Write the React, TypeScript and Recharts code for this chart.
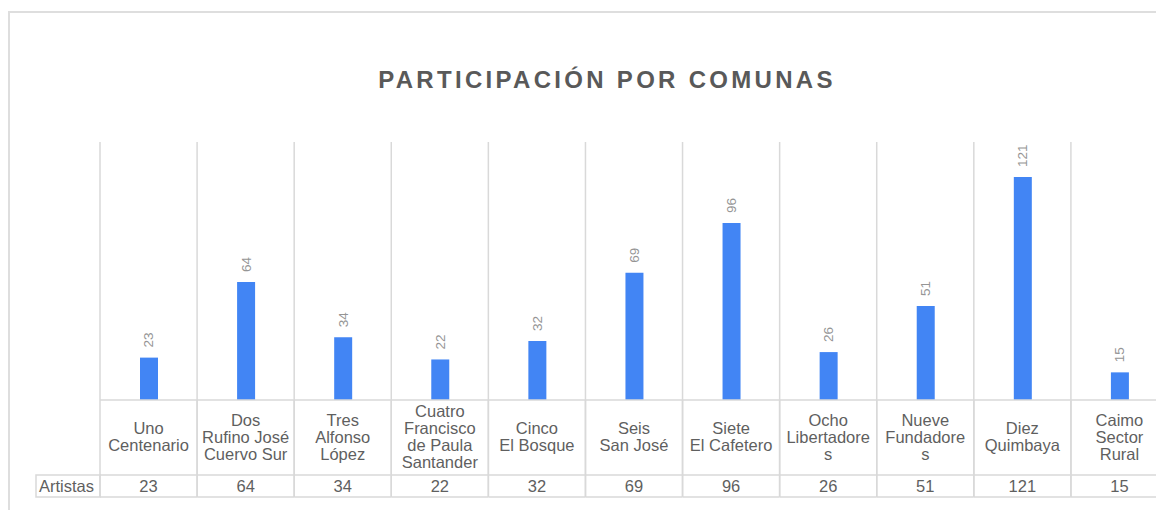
import { BarChart, Bar, XAxis, YAxis, CartesianGrid, LabelList } from 'recharts'

const COMUNAS = [
  'Uno\nCentenario',
  'Dos\nRufino José\nCuervo Sur',
  'Tres\nAlfonso\nLópez',
  'Cuatro\nFrancisco\nde Paula\nSantander',
  'Cinco\nEl Bosque',
  'Seis\nSan José',
  'Siete\nEl Cafetero',
  'Ocho\nLibertadore\ns',
  'Nueve\nFundadore\ns',
  'Diez\nQuimbaya',
  'Caimo\nSector\nRural',
]
const ARTISTAS = [23, 64, 34, 22, 32, 69, 96, 26, 51, 121, 15]
const Y_DOMAIN = [0, 140]
const SERIES_NAME = 'Artistas'

const data = COMUNAS.map((c, i) => ({ comuna: c, artistas: ARTISTAS[i] }))

const FONT = '"Liberation Sans", Arial, sans-serif'
const GRID = '#d9d9d9'
const TEXT = '#595959'
const ROW1 = 75
const ROW2 = 22
const CHART_W = 1180
const MARGIN = { top: 142, right: 12, bottom: 13, left: 100 }
const BAND = (CHART_W - MARGIN.left - MARGIN.right) / COMUNAS.length

function TableTick(props: any) {
  const { x, y, payload, index } = props
  const lines = String(payload.value).split('\n')
  const half = BAND / 2
  const mid = y + ROW1 / 2 - 1
  const txt = { fontFamily: FONT, fontSize: 16.5, fill: '#5f5f5f' }
  return (
    <g>
      <line x1={x - half} x2={x - half} y1={y} y2={y + ROW1 + ROW2} stroke={GRID} strokeWidth={1.5} />
      <line x1={x + half} x2={x + half} y1={y} y2={y + ROW1 + ROW2} stroke={GRID} strokeWidth={1.5} />
      <line x1={x - half} x2={x + half} y1={y + ROW1} y2={y + ROW1} stroke={GRID} strokeWidth={1.5} />
      <line x1={x - half} x2={x + half} y1={y + ROW1 + ROW2} y2={y + ROW1 + ROW2} stroke={GRID} strokeWidth={1.5} />
      {lines.map((l, i) => (
        <text key={i} x={x} y={mid + (i - (lines.length - 1) / 2) * 17} textAnchor="middle" dominantBaseline="central" {...txt}>
          {l}
        </text>
      ))}
      <text x={x} y={y + ROW1 + ROW2 / 2} textAnchor="middle" dominantBaseline="central" {...txt}>
        {ARTISTAS[index]}
      </text>
      {index === 0 && (
        <g>
          <rect x={36} y={y + ROW1} width={x - half - 36} height={ROW2} fill="none" stroke={GRID} strokeWidth={1.5} />
          <text x={39} y={y + ROW1 + ROW2 / 2} dominantBaseline="central" {...txt}>
            {SERIES_NAME}
          </text>
        </g>
      )}
    </g>
  )
}

function ValueLabel(props: any) {
  const { x, y, width, value } = props
  const cx = x + width / 2
  const ty = y - 10
  return (
    <text
      x={cx}
      y={ty}
      transform={`rotate(-90 ${cx} ${ty})`}
      textAnchor="start"
      dominantBaseline="central"
      fontFamily={FONT}
      fontSize={13.5}
      fill="#959595"
    >
      {value}
    </text>
  )
}

export default function App() {
  return (
    <div style={{ position: 'absolute', left: 0, top: 0, width: 1156, height: 510, overflow: 'hidden', background: '#fff', fontFamily: FONT }}>
      <div style={{ position: 'absolute', left: 8, top: 11, width: 1300, height: 600, borderLeft: '2px solid #dedede', borderTop: '2px solid #dedede' }} />
      <div
        style={{
          position: 'absolute',
          left: 0,
          top: 64,
          width: 1214,
          textAlign: 'center',
          fontSize: 24,
          fontWeight: 'bold',
          letterSpacing: 3.3,
          color: TEXT,
          lineHeight: '32px',
        }}
      >
        PARTICIPACIÓN POR COMUNAS
      </div>
      <div style={{ position: 'absolute', left: 0, top: 0 }}>
        <BarChart width={CHART_W} height={510} data={data} margin={MARGIN} barSize={18}>
          <CartesianGrid
            horizontal={false}
            stroke={GRID}
            strokeWidth={1.5}
            verticalCoordinatesGenerator={({ offset }: any) =>
              COMUNAS.map((_, i) => offset.left + i * (offset.width / COMUNAS.length)).concat(offset.left + offset.width)
            }
          />
          <XAxis
            dataKey="comuna"
            interval={0}
            height={ROW1 + ROW2}
            tickSize={0}
            tickMargin={0}
            tickLine={false}
            axisLine={{ stroke: GRID, strokeWidth: 1.5 }}
            tick={<TableTick />}
          />
          <YAxis hide domain={Y_DOMAIN} />
          <Bar dataKey="artistas" fill="#4285F4" isAnimationActive={false}>
            <LabelList dataKey="artistas" content={<ValueLabel />} />
          </Bar>
        </BarChart>
      </div>
    </div>
  )
}
